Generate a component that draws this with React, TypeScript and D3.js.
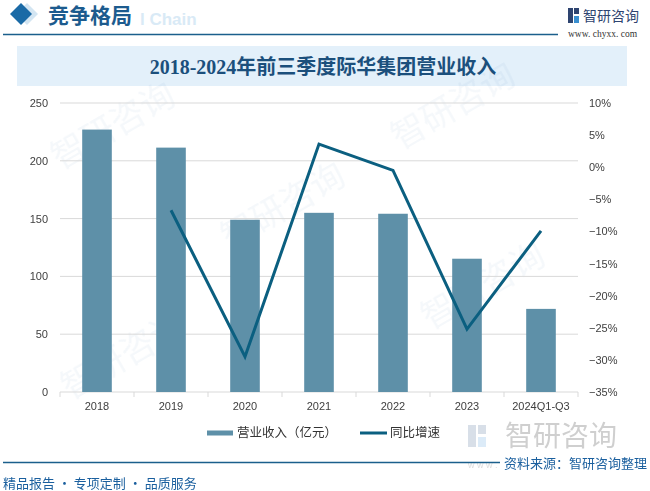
import * as d3 from "d3";

const categories = ["2018", "2019", "2020", "2021", "2022", "2023", "2024Q1-Q3"];
const revenue = [227, 211.4, 149, 155, 154.2, 115.3, 71.9];
const growth = [null, -6.7, -29.5, 3.6, -0.5, -25.2, -9.9];
const leftTicks = [0, 50, 100, 150, 200, 250];
const rightTicks = [10, 5, 0, -5, -10, -15, -20, -25, -30, -35];

const W = 650;
const H = 491;
const plotLeft = 60;
const plotRight = 578;
const plotTop = 103;
const plotBottom = 392;

const barColor = "#5e90a8";
const lineColor = "#0b5f80";
const grid = "#d9d9d9";
const tickText = "#404040";
const cjk = "'Noto Sans CJK SC', 'Liberation Sans', sans-serif";
const numFont = "'Liberation Sans', Arial, 'Noto Sans CJK SC', sans-serif";

export default function App() {
  const x = d3.scaleBand<string>().domain(categories).range([plotLeft, plotRight]).padding(0);
  const yL = d3.scaleLinear().domain([0, 250]).range([plotBottom, plotTop]);
  const yR = d3.scaleLinear().domain([-35, 10]).range([plotBottom, plotTop]);
  const barW = x.bandwidth() * 0.4;
  const cx = (c: string) => (x(c) ?? 0) + x.bandwidth() / 2;

  const linePts = categories
    .map((c, i) => ({ c, v: growth[i] }))
    .filter((d): d is { c: string; v: number } => d.v !== null);
  const linePath = d3
    .line<{ c: string; v: number }>()
    .x((d) => cx(d.c))
    .y((d) => yR(d.v))(linePts);

  const boundaries = categories.map((c) => x(c) ?? 0).concat([plotRight]);

  return (
    <div style={{ position: "fixed", left: 0, top: 0, width: W, height: H, background: "#fff" }}>
      <svg width={W} height={H} viewBox={`0 0 ${W} ${H}`} style={{ display: "block" }}>
        <rect width={W} height={H} fill="#fff" />

        {/* header */}
        <path d="M27,3 L38,14 L27,25 L16,14 Z" fill="#d3e5f2" />
        <path d="M21,3 L32,14 L21,25 L10,14 Z" fill="#1a6aa6" />
        <text x={140} y={25} fontFamily={numFont} fontWeight="bold" fontSize={17} fill="#d9eaf6">
          l Chain
        </text>
        <text x={48} y={23} fontFamily={cjk} fontWeight="bold" fontSize={21} fill="#1c5b8e">
          竞争格局
        </text>
        <line x1={3} x2={558} y1={34.5} y2={34.5} stroke="#1b5f8c" strokeWidth={1.5} />
        <g>
          <rect x={568} y={8} width={5} height={15} fill="#2e4470" />
          <rect x={574} y={8} width={5} height={6} fill="#2e4470" />
          <rect x={574} y={16} width={5} height={7} fill="#3a8fd0" />
        </g>
        <text x={583} y={21} fontFamily={cjk} fontSize={14} fill="#2e4470">
          智研咨询
        </text>
        <text x={568} y={37} fontFamily="'Liberation Serif', serif" fontSize={9.5} fill="#333">
          www. chyxx. com
        </text>

        {/* title box */}
        <rect x={17} y={46} width={610} height={40} fill="#e3f0fa" />
        <text
          x={323}
          y={74}
          textAnchor="middle"
          fontFamily="'Liberation Serif', 'Noto Sans CJK SC', serif"
          fontWeight="bold"
          fontSize={20}
          fill="#1b4f7c"
        >
          2018-2024年前三季度际华集团营业收入
        </text>

        {/* faint watermarks */}
        <g opacity={0.045} fontFamily={cjk} fontSize={34} fill="#1a5f9e">
          {[
            [60, 170],
            [230, 250],
            [400, 150],
            [430, 330],
            [70, 400],
          ].map(([wx, wy], i) => (
            <text key={i} x={wx} y={wy} transform={`rotate(-30 ${wx} ${wy})`}>
              智研咨询
            </text>
          ))}
        </g>

        {/* gridlines */}
        {leftTicks.map((t) => (
          <line key={t} x1={plotLeft} x2={plotRight} y1={yL(t)} y2={yL(t)} stroke={grid} strokeWidth={1} />
        ))}
        {boundaries.map((b, i) => (
          <line key={i} x1={b} x2={b} y1={plotBottom} y2={plotBottom + 5} stroke={grid} strokeWidth={1} />
        ))}

        {/* bars */}
        {categories.map((c, i) => (
          <rect
            key={c}
            x={cx(c) - barW / 2}
            y={yL(revenue[i])}
            width={barW}
            height={yL(0) - yL(revenue[i])}
            fill={barColor}
          />
        ))}

        {/* line */}
        <path d={linePath ?? ""} fill="none" stroke={lineColor} strokeWidth={3} strokeLinejoin="miter" />

        {/* left axis labels */}
        {leftTicks.map((t) => (
          <text key={t} x={48} y={yL(t) + 4} textAnchor="end" fontFamily={numFont} fontSize={11} fill={tickText}>
            {t}
          </text>
        ))}
        {/* right axis labels */}
        {rightTicks.map((t) => (
          <text key={t} x={589} y={yR(t) + 4} fontFamily={numFont} fontSize={11} fill={tickText}>
            {t < 0 ? `−${Math.abs(t)}%` : `${t}%`}
          </text>
        ))}
        {/* x labels */}
        {categories.map((c) => (
          <text key={c} x={cx(c)} y={410} textAnchor="middle" fontFamily={numFont} fontSize={11} fill={tickText}>
            {c}
          </text>
        ))}

        {/* legend */}
        <rect x={207} y={430.5} width={26} height={5} fill={barColor} />
        <text x={237} y={437} fontFamily={cjk} fontSize={12.5} fill="#333">
          营业收入（亿元）
        </text>
        <line x1={360} x2={387} y1={433} y2={433} stroke={lineColor} strokeWidth={3} />
        <text x={390} y={437} fontFamily={cjk} fontSize={12.5} fill="#333">
          同比增速
        </text>

        {/* footer */}
        <g opacity={0.35}>
          <rect x={468} y={425} width={8} height={22} fill="#8fa3bd" />
          <rect x={478} y={425} width={8} height={9} fill="#8fa3bd" />
          <rect x={478} y={437} width={8} height={10} fill="#9cc7ea" />
          <text x={505} y={446} fontFamily={cjk} fontSize={28} fill="#777">
            智研咨询
          </text>
          <text x={468} y={468} fontFamily={numFont} fontSize={9} fill="#999">
            w w w .
          </text>
        </g>
        <line x1={3} x2={500} y1={462.5} y2={462.5} stroke="#1b5f8c" strokeWidth={1.5} />
        <text x={647} y={468} textAnchor="end" fontFamily={cjk} fontSize={13} fill="#1a5f9e">
          资料来源：智研咨询整理
        </text>
        <text x={3} y={488} fontFamily={cjk} fontSize={13} fill="#1a5f9e">
          精品报告 · 专项定制 · 品质服务
        </text>
      </svg>
    </div>
  );
}
